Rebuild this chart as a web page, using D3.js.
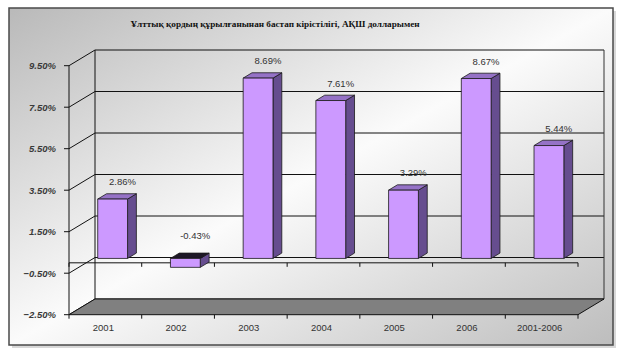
<!DOCTYPE html>
<html><head><meta charset="utf-8">
<script src="https://cdn.jsdelivr.net/npm/d3@7"></script>
<style>html,body{margin:0;padding:0;background:#fff;}svg{display:block;}</style>
</head><body>
<script>
const title = "Ұлттық қордың құрылғанынан бастап кірістілігі, АҚШ долларымен";
const categories = ["2001","2002","2003","2004","2005","2006","2001-2006"];
const values = [2.86, -0.43, 8.69, 7.61, 3.29, 8.67, 5.44];
const labels = ["2.86%","-0.43%","8.69%","7.61%","3.29%","8.67%","5.44%"];
const yTicks = [-2.5, -0.5, 1.5, 3.5, 5.5, 7.5, 9.5];

const W = 624, H = 358;
const svg = d3.select("body").append("svg").attr("width", W).attr("height", H);
const defs = svg.append("defs");
const g = defs.append("linearGradient").attr("id","bg").attr("x1","0").attr("y1","0").attr("x2","1").attr("y2","1");
g.append("stop").attr("offset","0").attr("stop-color","#b9b9b9");
g.append("stop").attr("offset","0.5").attr("stop-color","#fbfbfb");
g.append("stop").attr("offset","1").attr("stop-color","#bdbdbd");

// frame
svg.append("rect").attr("x",12).attr("y",11).attr("width",604).attr("height",337).attr("fill","#d8d8d8");
svg.append("rect").attr("x",9).attr("y",8).attr("width",604).attr("height",337)
  .attr("fill","url(#bg)").attr("stroke","#4a4a4a").attr("stroke-width",1.5);

svg.append("text").attr("x",275).attr("y",26.5).attr("text-anchor","middle")
  .attr("font-family","Liberation Serif, Times New Roman, serif").attr("font-weight","bold")
  .attr("font-size",9.2).attr("fill","#111").text(title);

const y = d3.scaleLinear().domain([-2.5, 9.5]).range([314.7, 65.7]);
const x = d3.scaleBand().domain(categories).range([69, 578]).padding(0);
const DX = 26, DY = -15.7;
const d0 = 0.28, d1 = 0.62;
const bw = x.bandwidth(), barW = bw * 0.41;
const P = (px, py, d) => [px + d*DX, py + d*DY];
const line = (pts) => "M" + pts.map(p => p.join(",")).join("L");
const poly = (pts) => line(pts) + "Z";

const plot = svg.append("g");
const xL = 69, xR = 578;

// back wall gridlines + side wall diagonals
yTicks.forEach(t => {
  const yy = y(t);
  plot.append("path").attr("d", line([P(xL,yy,1), P(xR,yy,1)])).attr("stroke","#111").attr("stroke-width",1).attr("fill","none");
  plot.append("path").attr("d", line([[xL,yy], P(xL,yy,1)])).attr("stroke","#111").attr("stroke-width",1).attr("fill","none");
});
// back wall vertical edges
plot.append("path").attr("d", line([P(xL,y(9.5),1), P(xL,y(-2.5),1)])).attr("stroke","#111").attr("fill","none");
plot.append("path").attr("d", line([P(xR,y(9.5),1), P(xR,y(-2.5),1)])).attr("stroke","#333").attr("fill","none");

// floor
const yb = y(-2.5);
plot.append("path").attr("d", poly([[xL,yb],[xR,yb],P(xR,yb,1),P(xL,yb,1)]))
  .attr("fill","#808080").attr("stroke","#111").attr("stroke-width",1);

// value axis
plot.append("line").attr("x1",xL).attr("x2",xL).attr("y1",y(9.5)).attr("y2",yb).attr("stroke","#111");
yTicks.forEach(t => {
  plot.append("line").attr("x1",xL-5).attr("x2",xL).attr("y1",y(t)).attr("y2",y(t)).attr("stroke","#111");
  plot.append("text").attr("x",56).attr("y",y(t)+3.5).attr("text-anchor","end")
    .attr("font-family","Liberation Sans, Arial, sans-serif").attr("font-size",9.5)
    .attr("font-weight","bold").attr("font-style","italic").attr("fill","#3a3a3a")
    .text(d3.format(".2f")(t) + "%");
});

// zero line (category axis at 0) and bottom ticks
const y0 = y(0);
plot.append("line").attr("x1",xL).attr("x2",xR).attr("y1",y0).attr("y2",y0).attr("stroke","#111");
const bounds = categories.map(c => x(c)).concat([xR]);
bounds.forEach(b => {
  plot.append("line").attr("x1",b).attr("x2",b).attr("y1",y0).attr("y2",y0+4).attr("stroke","#111");
  plot.append("line").attr("x1",b).attr("x2",b).attr("y1",yb).attr("y2",yb+4).attr("stroke","#111");
});
categories.forEach(c => {
  plot.append("text").attr("x",x(c)+bw/2-2).attr("y",330.5).attr("text-anchor","middle")
    .attr("font-family","Liberation Sans, Arial, sans-serif").attr("font-size",9.5).attr("fill","#333").text(c);
});

// bars
categories.forEach((c, i) => {
  const v = values[i];
  const xa = x(c) + (bw - barW)/2, xb = xa + barW;
  const yTop = y(Math.max(v,0)), yBot = y(Math.min(v,0));
  const gb = plot.append("g").attr("stroke","#1a1a1a").attr("stroke-width",0.8).attr("stroke-linejoin","round");
  // side
  gb.append("path").attr("d", poly([P(xb,yTop,d0),P(xb,yTop,d1),P(xb,yBot,d1),P(xb,yBot,d0)])).attr("fill","#664d8f");
  // top
  gb.append("path").attr("d", poly([P(xa,yTop,d0),P(xb,yTop,d0),P(xb,yTop,d1),P(xa,yTop,d1)]))
    .attr("fill", v < 0 ? "#1d1726" : "#9572c6");
  // front
  gb.append("path").attr("d", poly([P(xa,yTop,d0),P(xb,yTop,d0),P(xb,yBot,d0),P(xa,yBot,d0)])).attr("fill","#cc99ff");
  // label
  const lp = P((xa+xb)/2 + 1, yTop, d1);
  plot.append("text").attr("x", lp[0]).attr("y", lp[1] - (v < 0 ? 14 : 8.5)).attr("text-anchor","middle")
    .attr("font-family","Liberation Sans, Arial, sans-serif").attr("font-size",9.5).attr("fill","#333").text(labels[i]);
});
</script>
</body></html>
